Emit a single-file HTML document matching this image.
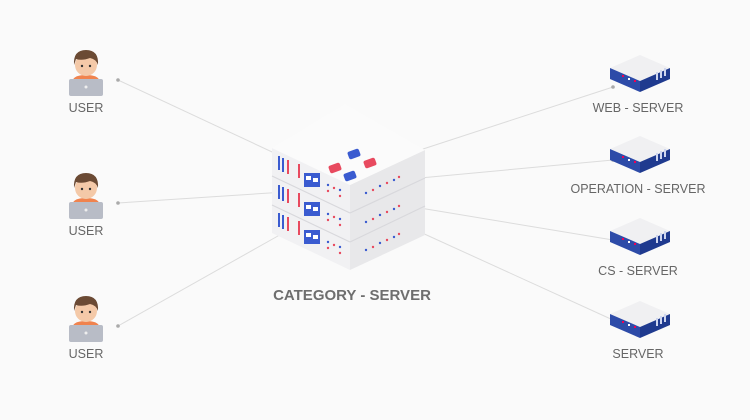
<!DOCTYPE html>
<html><head><style>
body{margin:0;background:#fafafa;}
svg{display:block;font-family:"Liberation Sans",sans-serif;}
</style></head><body>
<svg width="750" height="420" viewBox="0 0 750 420">
<rect width="750" height="420" fill="#fafafa"/>
<defs>
<g id="user">
<path d="M-14 2 Q-14 -6 0 -6 Q14 -6 14 2 L14 14 L-14 14Z" fill="#f0834e"/>
<circle cx="0" cy="-16" r="11" fill="#f4c9a8"/>
<path d="M-12 -16 Q-13 -31 0 -31 Q13 -31 12 -16 Q10 -22 4 -23 Q-4 -20 -10 -22Z" fill="#6b4a34"/>
<circle cx="-4" cy="-15" r="1.2" fill="#333"/><circle cx="4" cy="-15" r="1.2" fill="#333"/>
<rect x="-17" y="-2" width="34" height="17" rx="2" fill="#b8bcc6"/>
<circle cx="0" cy="6" r="1.5" fill="#eee"/>
</g>
<g id="srv">
<polygon points="0,-15 30,-2 0,11 -30,-2" fill="#f0f0f2"/>
<polygon points="-30,-2 0,11 0,22 -30,9" fill="#2d4ba8"/>
<polygon points="0,11 30,-2 30,9 0,22" fill="#1f3a8f"/>
<rect x="-18" y="5" width="2" height="2" fill="#e05"/><rect x="-12" y="8" width="2" height="2" fill="#fff"/><rect x="-6" y="10" width="2" height="2" fill="#e05"/>
<rect x="16" y="2" width="2" height="8" fill="#cfd6ef"/><rect x="20" y="0" width="2" height="8" fill="#cfd6ef"/><rect x="24" y="-2" width="2" height="8" fill="#cfd6ef"/>
</g>
</defs>
<g stroke="#dcdcdc" stroke-width="1" fill="none">
<line x1="118" y1="80" x2="285" y2="158"/>
<line x1="118" y1="203" x2="285" y2="192"/>
<line x1="118" y1="326" x2="285" y2="232"/>
<line x1="613" y1="87" x2="420" y2="150"/>
<line x1="613" y1="160" x2="420" y2="178"/>
<line x1="613" y1="240" x2="420" y2="208"/>
<line x1="613" y1="320" x2="420" y2="232"/>
</g>
<g fill="#aaa">
<circle cx="118" cy="80" r="1.8"/><circle cx="118" cy="203" r="1.8"/><circle cx="118" cy="326" r="1.8"/>
<circle cx="613" cy="87" r="1.8"/><circle cx="613" cy="160" r="1.8"/><circle cx="613" cy="240" r="1.8"/><circle cx="613" cy="320" r="1.8"/>
</g>
<g>
<polygon points="272,148 350,185 350,270 272,233" fill="#f1f1f3"/>
<polygon points="350,185 425,150 425,235 350,270" fill="#e8e8ea"/>
<polygon points="272,148 345,104 425,150 350,185" fill="#fbfbfb"/>
<g stroke="#d8d8dc" stroke-width="1.2">
<line x1="272" y1="176" x2="350" y2="213"/><line x1="350" y1="213" x2="425" y2="178"/>
<line x1="272" y1="205" x2="350" y2="242"/><line x1="350" y1="242" x2="425" y2="206"/>
</g>
<g>
<rect x="329" y="164" width="12" height="8" rx="2" fill="#e84a5f" transform="rotate(-20 335 168)"/>
<rect x="348" y="150" width="12" height="8" rx="2" fill="#3a5bd0" transform="rotate(-20 354 154)"/>
<rect x="364" y="159" width="12" height="8" rx="2" fill="#e84a5f" transform="rotate(-20 370 163)"/>
<rect x="344" y="172" width="12" height="8" rx="2" fill="#3a5bd0" transform="rotate(-20 350 176)"/>
</g>
<g id="face">
<rect x="278" y="156" width="2" height="14" fill="#3a5bd0"/><rect x="282" y="158" width="2" height="14" fill="#3a5bd0"/>
<rect x="287" y="160" width="2" height="14" fill="#e84a5f"/><rect x="298" y="164" width="2" height="14" fill="#e84a5f"/>
<rect x="304" y="173" width="16" height="14" fill="#3a5bd0"/>
<rect x="306" y="176" width="5" height="4" fill="#fff"/><rect x="313" y="178" width="5" height="4" fill="#fff"/>
<circle cx="328" cy="185" r="1.2" fill="#3a5bd0"/><circle cx="334" cy="188" r="1.2" fill="#e84a5f"/><circle cx="340" cy="190" r="1.2" fill="#3a5bd0"/>
<circle cx="328" cy="191" r="1.2" fill="#e84a5f"/><circle cx="340" cy="196" r="1.2" fill="#e84a5f"/>
<circle cx="366" cy="193" r="1.2" fill="#3a5bd0"/><circle cx="373" cy="190" r="1.2" fill="#e84a5f"/><circle cx="380" cy="186" r="1.2" fill="#3a5bd0"/><circle cx="387" cy="183" r="1.2" fill="#e84a5f"/><circle cx="394" cy="180" r="1.2" fill="#3a5bd0"/><circle cx="399" cy="177" r="1.2" fill="#e84a5f"/>
</g>
<use href="#face" y="29"/><use href="#face" y="57"/>
</g>
<text x="352" y="300" text-anchor="middle" font-size="15" font-weight="bold" fill="#6e6e6e">CATEGORY - SERVER</text>
<use href="#user" x="86" y="81"/><use href="#user" x="86" y="204"/><use href="#user" x="86" y="327"/>
<g font-size="12.5" fill="#666" text-anchor="middle">
<text x="86" y="112">USER</text><text x="86" y="235">USER</text><text x="86" y="358">USER</text>
<text x="638" y="112">WEB - SERVER</text><text x="638" y="193">OPERATION - SERVER</text>
<text x="638" y="275">CS - SERVER</text><text x="638" y="358">SERVER</text>
</g>
<use href="#srv" x="640" y="70"/><use href="#srv" x="640" y="151"/><use href="#srv" x="640" y="233"/><use href="#srv" x="640" y="316"/>
</svg>
</body></html>
